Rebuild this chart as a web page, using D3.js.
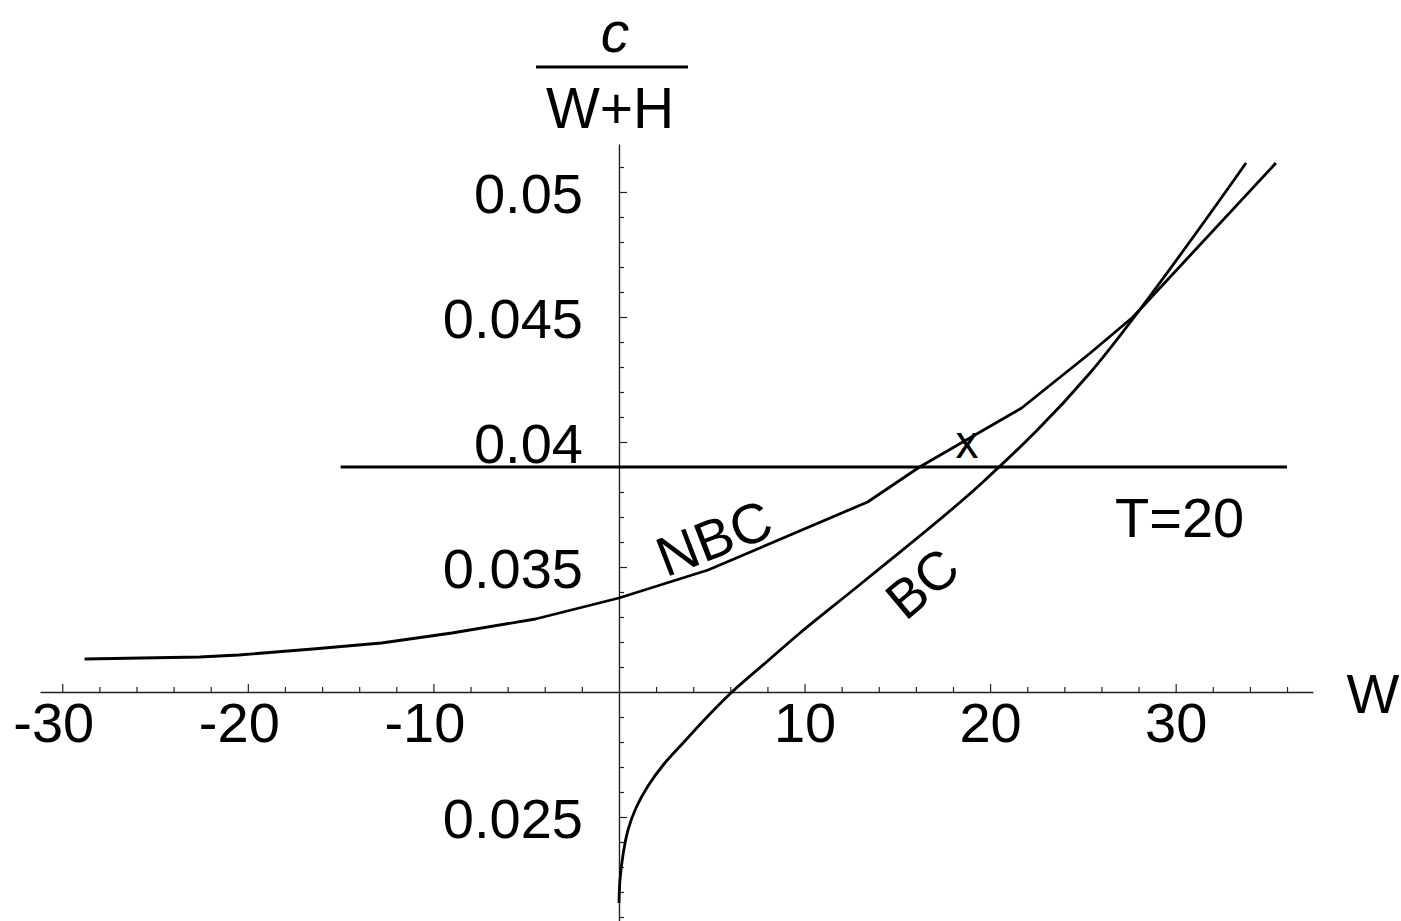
<!DOCTYPE html>
<html>
<head>
<meta charset="utf-8">
<script src="https://cdn.jsdelivr.net/npm/d3@7"></script>
<style>
  body { margin: 0; background: #fff; }
  svg { display: block; font-family: "Liberation Sans", Arial, sans-serif; }
</style>
</head>
<body>
<svg id="chart"></svg>
<script>
// ---- data ----
const nbcW = [-28.8, -22.6, -20.5, -16.5, -12.8, -9.0, -4.5, 0, 4.8, 13.4, 16.2, 21.7, 25.4, 27.7, 35.4];
const nbcV = [0.03132, 0.0314, 0.03148, 0.03172, 0.03196, 0.03236, 0.03292, 0.03376, 0.03488, 0.0376, 0.0390, 0.04136, 0.04356, 0.0450, 0.05116];

const bcW = [0, 0.054, 0.216, 0.485, 0.916, 1.563, 2.425, 3.503, 4.796, 6.09, 8.137, 9.754, 13.418, 19.615, 25.38, 33.79];
const bcV = [0.02156, 0.02248, 0.02348, 0.02448, 0.02536, 0.02624, 0.02712, 0.028, 0.02904, 0.03, 0.03132, 0.03236, 0.03456, 0.0384, 0.04276, 0.05116];

// T=20 level
const levelW = [-15, 36];
const levelV = 0.039;

const xMajor = [-30, -20, -10, 10, 20, 30];
const xMinor = d3.range(-30, 37, 2).filter(d => d % 10 !== 0);
const yMajor = [0.025, 0.035, 0.04, 0.045, 0.05];
const yMajorLabels = ["0.025", "0.035", "0.04", "0.045", "0.05"];
const yMinor = d3.range(21, 52).map(d => d / 1000).filter(d => d * 1000 % 5 !== 0);

// ---- layout ----
const width = 1401, height = 921;
const svg = d3.select("#chart").attr("width", width).attr("height", height);

const x = d3.scaleLinear().domain([-31.2, 37.4]).range([40, 1313]);
const y = d3.scaleLinear().domain([0.02084, 0.05192]).range([921, 144]);

const fontSize = 56;

// x axis (crosses at y = 0.03)
const xAxisG = svg.append("g").attr("transform", `translate(0,${y(0.03)})`);
xAxisG.call(d3.axisBottom(x).tickValues(xMinor).tickSizeInner(-5).tickSizeOuter(0).tickFormat(""));
const xMajorG = svg.append("g").attr("transform", `translate(0,${y(0.03)})`);
xMajorG.call(d3.axisBottom(x).tickValues(xMajor).tickSizeInner(-8).tickSizeOuter(0).tickPadding(10).tickFormat(d => d));
xMajorG.select(".domain").remove();
xMajorG.selectAll("text")
  .attr("dx", d => d < 0 ? -9 : 0)
  .style("font-size", fontSize + "px")
  .style("font-family", "Liberation Sans, Arial, sans-serif")
  .attr("fill", "#000");

// y axis (crosses at W = 0)
const yAxisG = svg.append("g").attr("transform", `translate(${x(0)},0)`);
yAxisG.call(d3.axisLeft(y).tickValues(yMinor).tickSizeInner(-5).tickSizeOuter(0).tickFormat(""));
const yMajorG = svg.append("g").attr("transform", `translate(${x(0)},0)`);
yMajorG.call(d3.axisLeft(y).tickValues(yMajor).tickSizeInner(-8).tickSizeOuter(0).tickPadding(36)
  .tickFormat((d, i) => yMajorLabels[i]));
yMajorG.select(".domain").remove();
yMajorG.selectAll("text")
  .attr("dy", "0.36em")
  .style("font-size", fontSize + "px")
  .style("font-family", "Liberation Sans, Arial, sans-serif")
  .attr("fill", "#000");

svg.selectAll(".domain").attr("stroke", "#222").attr("stroke-width", 1.4);
svg.selectAll(".tick line").attr("stroke", "#222").attr("stroke-width", 1.2);

// ---- curves ----
const line = d3.line().x(d => x(d[0])).y(d => y(d[1]));
const smooth = d3.line().x(d => x(d[0])).y(d => y(d[1])).curve(d3.curveCatmullRom.alpha(0.5));

svg.append("path")
  .datum(nbcW.map((w, i) => [w, nbcV[i]]))
  .attr("d", line)
  .attr("fill", "none").attr("stroke", "#000").attr("stroke-width", 2.8)
  .attr("stroke-linejoin", "round");

svg.append("path")
  .datum(bcW.map((w, i) => [w, bcV[i]]))
  .attr("d", smooth)
  .attr("fill", "none").attr("stroke", "#000").attr("stroke-width", 2.8)
  .attr("stroke-linejoin", "round");

svg.append("path")
  .datum(levelW.map(w => [w, levelV]))
  .attr("d", line)
  .attr("fill", "none").attr("stroke", "#000").attr("stroke-width", 2.8);

// ---- labels ----
// y axis label: c / (W+H)
svg.append("text").attr("x", 615).attr("y", 52)
  .attr("text-anchor", "middle").style("font-size", "57px").style("font-style", "italic")
  .text("c");
svg.append("line").attr("x1", 536).attr("x2", 688).attr("y1", 67).attr("y2", 67)
  .attr("stroke", "#000").attr("stroke-width", 3);
svg.append("text").attr("x", 610).attr("y", 128)
  .attr("text-anchor", "middle").style("font-size", "57px")
  .text("W+H");

// x axis label
svg.append("text").attr("x", 1373).attr("y", 713)
  .attr("text-anchor", "middle").style("font-size", fontSize + "px")
  .text("W");

svg.append("text").attr("x", 1115).attr("y", 537)
  .style("font-size", fontSize + "px")
  .text("T=20");

svg.append("text").attr("x", 967).attr("y", 442)
  .attr("text-anchor", "middle").attr("dominant-baseline", "central")
  .style("font-size", "46px")
  .text("x");

svg.append("text")
  .attr("transform", "translate(714,538) rotate(-21)")
  .attr("text-anchor", "middle").attr("dominant-baseline", "central")
  .style("font-size", fontSize + "px")
  .text("NBC");

svg.append("text")
  .attr("transform", "translate(922,583) rotate(-40)")
  .attr("text-anchor", "middle").attr("dominant-baseline", "central")
  .style("font-size", "54px")
  .text("BC");
</script>
</body>
</html>
